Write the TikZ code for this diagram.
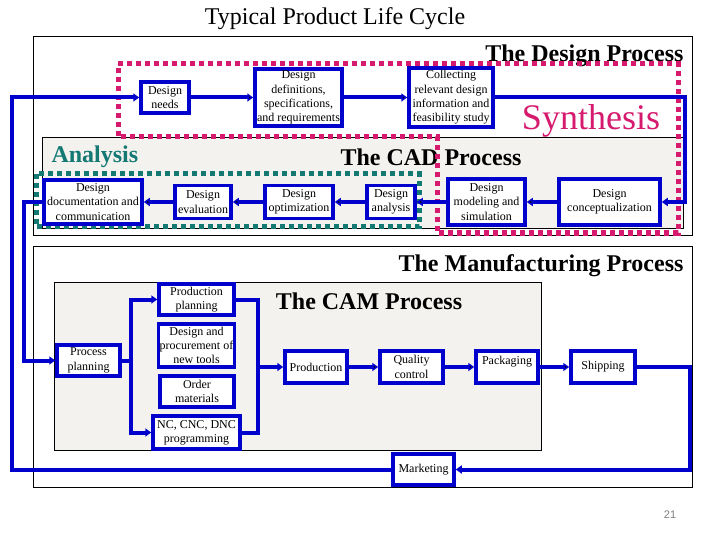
\documentclass[tikz,border=0pt]{standalone}
\usepackage{fontspec}
\setmainfont{Liberation Serif}
\newfontfamily\pagefont{Liberation Sans}
\usetikzlibrary{arrows.meta}
\definecolor{flowblue}{RGB}{0,0,204}
\definecolor{synthpink}{RGB}{214,26,110}
\definecolor{analteal}{RGB}{20,120,115}
\definecolor{cadgray}{RGB}{244,242,238}
\begin{document}
\begin{tikzpicture}[x=1pt, y=-1pt,
  box/.style={shape=rectangle, draw=flowblue, line width=3.5pt, fill=white, inner sep=1pt, align=center, font=\fontsize{12}{14.3}\selectfont},
  flow/.style={draw=flowblue, line width=4pt},
  arr/.style={flow, -{Triangle[length=6pt,width=8pt]}},
  region/.style={draw=black, line width=1pt},
  heading/.style={font=\fontsize{24}{28}\selectfont\bfseries},
  dots/.style={line width=5pt, dash pattern=on 5pt off 4pt}]
\useasboundingbox (0,0) rectangle (720,540);
% regions
\draw[region] (33,37) rectangle (692,235);
\draw[region, fill=cadgray] (42,138) rectangle (683,229);
\draw[region] (33,246) rectangle (692,487);
\draw[region, fill=cadgray] (54,282) rectangle (541,450);
% headings
\node[font=\fontsize{24}{28}\selectfont] (title) at (335,19) {Typical Product Life Cycle};
\node[heading, anchor=east] (designhead) at (687,56) {The Design Process};
\node[heading] (cadhead) at (431,157) {The CAD Process};
\node[heading, text=analteal, anchor=west] (analhead) at (48,157) {Analysis};
\node[font=\fontsize{36}{40}\selectfont, text=synthpink] (synthhead) at (591,121) {Synthesis};
\node[heading, anchor=east] (manuhead) at (687,266) {The Manufacturing Process};
\node[heading] (camhead) at (369,301) {The CAM Process};
\node[font=\pagefont\fontsize{11}{12}\selectfont, text=gray] (pagenum) at (670,515) {21};
% dotted groups
\draw[dots, draw=synthpink] (118,64) -- (678,64) -- (678,233) -- (437,233) -- (437,137) -- (118,137) -- cycle;
\draw[dots, draw=analteal] (36,174) rectangle (419,227);
% design boxes
\node[box, minimum width=48pt, minimum height=31pt] (needs) at (165,97.5) {Design\\needs};
\node[box, minimum width=87pt, minimum height=57pt] (defs) at (298.5,97.5) {Design\\definitions,\\specifications,\\and requirements};
\node[box, minimum width=84pt, minimum height=59pt] (collect) at (451,97.5) {Collecting\\relevant design\\information and\\feasibility study};
\node[box, minimum width=98pt, minimum height=44pt] (docu) at (93,202) {Design\\documentation and\\communication};
\node[box, minimum width=56pt, minimum height=33pt] (evalu) at (203,202) {Design\\evaluation};
\node[box, minimum width=68pt, minimum height=33pt] (optim) at (299,202) {Design\\optimization};
\node[box, minimum width=48pt, minimum height=33pt] (analy) at (391,202) {Design\\analysis};
\node[box, minimum width=77pt, minimum height=46pt] (model) at (486.5,202) {Design\\modeling and\\simulation};
\node[box, minimum width=101pt, minimum height=46pt] (concept) at (609.5,202) {Design\\conceptualization};
% manufacturing boxes
\node[box, minimum width=63pt, minimum height=31pt] (procplan) at (88.5,360.5) {Process\\planning};
\node[box, minimum width=75pt, minimum height=31pt] (prodplan) at (196.5,299.5) {Production\\planning};
\node[box, minimum width=75pt, minimum height=43pt] (tools) at (196.5,345.5) {Design and\\procurement of\\new tools};
\node[box, minimum width=74pt, minimum height=31pt] (order) at (197,391.5) {Order\\materials};
\node[box, minimum width=87pt, minimum height=33pt] (ncprog) at (196.5,432.5) {NC, CNC, DNC\\programming};
\node[box, minimum width=62pt, minimum height=32pt] (produ) at (316,367) {Production};
\node[box, minimum width=63pt, minimum height=32pt] (quality) at (411.5,367) {Quality\\control};
\node[box, minimum width=62pt, minimum height=32pt] (pack) at (507,367) {Packaging\\\mbox{}};
\node[box, minimum width=64pt, minimum height=32pt] (ship) at (603,367) {Shipping};
\node[box, minimum width=61pt, minimum height=31pt] (market) at (423.5,469.5) {Marketing};
% bends
\coordinate (synthright) at (685,0);
\coordinate (innerleft) at (24,0);
\coordinate (outerleft) at (12,0);
\coordinate (outerright) at (690,0);
\coordinate (busleft) at (131,0);
\coordinate (busright) at (258,0);
% connectors
\path[arr] (needs) edge (defs);
\path[arr] (defs) edge (collect);
\draw[arr] (collect.east) -- (collect.east -| synthright) |- (concept.east);
\path[arr] (concept) edge (model);
\path[arr] (model) edge (analy);
\path[arr] (analy) edge (optim);
\path[arr] (optim) edge (evalu);
\path[arr] (evalu) edge (docu);
\draw[arr] (docu.west) -- (docu.west -| innerleft) |- (procplan.west);
\draw[flow] (procplan.east) -- (procplan.east -| busleft);
\draw[arr] (procplan.east -| busleft) |- (prodplan.west);
\draw[arr] (procplan.east -| busleft) |- (ncprog.west);
\draw[flow] (prodplan.east) -- (prodplan.east -| busright) |- (ncprog.east);
\draw[arr] (produ.west -| busright) -- (produ.west);
\path[arr] (produ) edge (quality);
\path[arr] (quality) edge (pack);
\path[arr] (pack) edge (ship);
\draw[arr] (ship.east) -- (ship.east -| outerright) |- (market.east);
\draw[arr] (market.west) -- (market.west -| outerleft) |- (needs.west);
\end{tikzpicture}
\end{document}
